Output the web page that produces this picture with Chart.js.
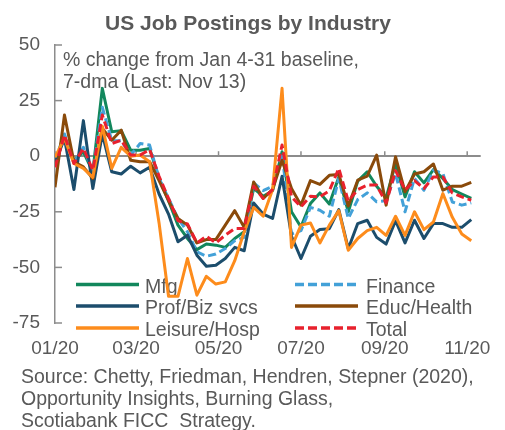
<!DOCTYPE html>
<html>
<head>
<meta charset="utf-8">
<script src="https://cdn.jsdelivr.net/npm/chart.js@4.4.1/dist/chart.umd.min.js"></script>
<style>
  html, body { margin: 0; padding: 0; background: #ffffff; }
  #wrap { position: relative; width: 505px; height: 430px; overflow: hidden; }
  #c { position: absolute; left: 0; top: 0; }
  #title { position: absolute; left: 0; top: 12px; width: 496px; text-align: center;
    font: bold 21px "Liberation Sans", Arial, sans-serif; line-height: 21px; color: #595959; }
  #source { position: absolute; left: 21px; top: 365px; width: 484px;
    font: 19.5px "Liberation Sans", Arial, sans-serif; line-height: 22px; color: #595959; white-space: pre; }
</style>
</head>
<body>
<div id="wrap">
  <canvas id="c" width="505" height="430"></canvas>
  <div id="title">US Job Postings by Industry</div>
  <div id="source">Source: Chetty, Friedman, Hendren, Stepner (2020),
Opportunity Insights, Burning Glass,
Scotiabank FICC  Strategy.</div>
</div>
<script>
// ---- data ----
const dates = [
  '2020-01-10','2020-01-17','2020-01-24','2020-01-31','2020-02-07','2020-02-14','2020-02-21','2020-02-28',
  '2020-03-06','2020-03-13','2020-03-20','2020-03-27','2020-04-03','2020-04-10','2020-04-17','2020-04-24',
  '2020-05-01','2020-05-08','2020-05-15','2020-05-22','2020-05-29','2020-06-05','2020-06-12','2020-06-19',
  '2020-06-26','2020-07-03','2020-07-10','2020-07-17','2020-07-24','2020-07-31','2020-08-07','2020-08-14',
  '2020-08-21','2020-08-28','2020-09-04','2020-09-11','2020-09-18','2020-09-25','2020-10-02','2020-10-09',
  '2020-10-16','2020-10-23','2020-10-30','2020-11-06','2020-11-13'
];
const tickDates = ['2020-01-10','2020-03-10','2020-05-10','2020-07-10','2020-09-10','2020-11-10'];
const tickLabels = ['01/20','03/20','05/20','07/20','09/20','11/20'];
const yTicks = [50, 25, 0, -25, -50, -75];

const mfg = [-3, 9, -2, 2, -7, 30.5, 11, 11.5, 2.7, 2.7, 3.5,
  -10, -20, -31, -37, -42, -39.5, -40, -41, -37, -34,
  -14.5, -18, -15.5, 2, -25, -31.8, -21.3, -16.5, -21.5, -9.3,
  -25, -11.2, -7, -13.5, -18.7, -3.3, -18.3, -7, -12, -6,
  -10, -15, -17, -19];
const finance = [-2, 10, -3, 4, -7, 22, 7, 7, 0.5, 5.7, 5,
  -10, -19, -28, -34, -43, -45, -44, -41.5, -38, -36.5,
  -12, -15.5, -13.5, 1, -35, -33.5, -23, -24.3, -27, -10,
  -28, -19.5, -16.5, -20.5, -20, -7.8, -25, -10, -15.3, -6.3,
  -7.8, -20.6, -22, -21];
const profBiz = [-3, 8, -15, 16, -14.5, 10, -7, -8, -4.5, -7.5, -5,
  -17, -26, -38.5, -35.5, -44.5, -49.5, -49, -46, -41, -42.5,
  -21, -26, -28, -9, -36, -46, -36, -33, -32.6, -24,
  -41.6, -30.3, -28.8, -36.5, -39.5, -29, -39, -28.8, -37, -30.3,
  -30.3, -32, -32, -28.5];
const educHealth = [-14, 18.5, -2.5, -4.8, -10, 12.5, 7.2, 11.7, -1.8, -2.5, -2.5,
  -11, -20, -28, -31, -39, -37.5, -37.5, -31, -24.5, -32,
  -11.6, -19, -15, -1.8, -14.5, -22, -11, -12.7, -8.6, -8.2,
  -22.4, -10.8, -9, 0.5, -22, -0.3, -16, -8, -7, -3.5,
  -15.3, -13.5, -13.5, -11.8];
const leisure = [-0.5, 8, -3.3, -5.5, -9.5, 13.5, -5.5, 4, 0, 0.5, -2.5,
  -30, -63, -63, -46, -62.5, -54, -57.5, -56.5, -47, -34,
  -23, -27, -15, 30.5, -41, -31, -30, -39, -31, -24.5,
  -42.3, -37, -33.5, -32, -35.6, -27, -35.6, -25, -33, -29.6,
  -16.8, -27.5, -35, -38];
const total = [-5, 9.5, -3.3, 3.5, -6.3, 18.5, 5.7, 7.2, 0.5, 0.5, 3,
  -9, -19, -29, -30.5, -39, -36, -39, -35.5, -32.5, -32.5,
  -13.5, -19, -15, 5, -18.3, -22.8, -18, -18.3, -15.5, -5.5,
  -20.2, -15, -13, -13, -21, -6.5, -15.3, -11, -14.5, -9.3,
  -9.3, -16.5, -18.3, -19.8];

const noteLines = ['% change from Jan 4-31 baseline,', '7-dma (Last: Nov 13)'];

// ---- build ----
const FONT = '"Liberation Sans", Arial, sans-serif';
const TXT = '#595959';
const AXIS = '#8c8c8c';
const day0 = Date.parse(dates[0]);
const dayNum = d => Math.round((Date.parse(d) - day0) / 86400000);
const xs = dates.map(dayNum);
const tickDays = tickDates.map(dayNum);
const pts = arr => arr.map((v, i) => ({ x: xs[i], y: v }));

const series = [
  { label: 'Mfg', data: mfg, color: '#12875c', dash: [], order: 5 },
  { label: 'Finance', data: finance, color: '#43a1d8', dash: [8, 4], order: 4 },
  { label: 'Prof/Biz svcs', data: profBiz, color: '#1c4d6c', dash: [], order: 3 },
  { label: 'Educ/Health', data: educHealth, color: '#8a4a0a', dash: [], order: 2 },
  { label: 'Leisure/Hosp', data: leisure, color: '#fd8c1c', dash: [], order: 1 },
  { label: 'Total', data: total, color: '#e8212d', dash: [8, 4], order: 0 }
];

const overlay = {
  id: 'overlay',
  beforeDatasetsDraw(chart) {
    const c = chart.ctx, ca = chart.chartArea, sx = chart.scales.x, sy = chart.scales.y;
    c.save();
    c.strokeStyle = AXIS; c.lineWidth = 1.5;
    yTicks.forEach(v => {
      const py = sy.getPixelForValue(v);
      c.beginPath(); c.moveTo(ca.left, py); c.lineTo(ca.left + 7, py); c.stroke();
    });
    const y0 = sy.getPixelForValue(0);
    tickDays.forEach(d => {
      const px = sx.getPixelForValue(d);
      c.beginPath(); c.moveTo(px, y0); c.lineTo(px, y0 - 5); c.stroke();
    });
    c.fillStyle = TXT;
    c.font = '19.5px ' + FONT;
    c.textBaseline = 'alphabetic';
    c.textAlign = 'left';
    c.fillText(noteLines[0], ca.left + 8, 66);
    c.fillText(noteLines[1], ca.left + 8, 88);
    // legend (2 columns, row-major)
    const colLine = [[76, 139], [295, 358]];
    const colText = [145, 366];
    const rowY = [284.5, 306, 328];
    series.forEach((s, i) => {
      const col = i % 2, row = Math.floor(i / 2);
      const y = rowY[row];
      c.beginPath();
      c.strokeStyle = s.color; c.lineWidth = 3.5;
      c.setLineDash(s.dash.length ? [9, 4] : []);
      c.moveTo(colLine[col][0], y); c.lineTo(colLine[col][1], y); c.stroke();
      c.setLineDash([]);
      c.fillStyle = TXT;
      c.fillText(s.label, colText[col], y + 8);
    });
    c.restore();
  }
};

new Chart(document.getElementById('c'), {
  type: 'line',
  data: {
    datasets: series.map(s => ({
      label: s.label,
      data: pts(s.data),
      borderColor: s.color,
      backgroundColor: s.color,
      borderDash: s.dash,
      borderWidth: 3,
      borderJoinStyle: 'round',
      pointRadius: 0,
      tension: 0,
      fill: false,
      order: s.order
    }))
  },
  options: {
    responsive: false,
    animation: false,
    devicePixelRatio: 1,
    layout: { padding: { left: 0, right: 23, top: 45, bottom: 67 } },
    plugins: { legend: { display: false }, title: { display: false }, tooltip: { enabled: false } },
    scales: {
      x: {
        type: 'linear', min: 0, max: 315,
        afterBuildTicks: s => { s.ticks = tickDays.map(v => ({ value: v })); },
        afterFit: s => { s.height = 40; },
        ticks: {
          autoSkip: false, maxRotation: 0, padding: 14,
          color: TXT, font: { family: FONT, size: 19 },
          callback: v => tickLabels[tickDays.indexOf(v)]
        },
        grid: { display: false, drawTicks: false },
        border: { display: false }
      },
      y: {
        min: -75, max: 50,
        afterBuildTicks: s => { s.ticks = yTicks.map(v => ({ value: v })); },
        afterFit: s => { s.width = 55; },
        ticks: { padding: 15, color: TXT, font: { family: FONT, size: 19 }, callback: v => String(v) },
        grid: {
          drawTicks: false,
          color: c => (c.tick && c.tick.value === 0) ? AXIS : 'rgba(0,0,0,0)',
          lineWidth: 2
        },
        border: { display: true, color: AXIS, width: 1.5 }
      }
    }
  },
  plugins: [overlay]
});
</script>
</body>
</html>
